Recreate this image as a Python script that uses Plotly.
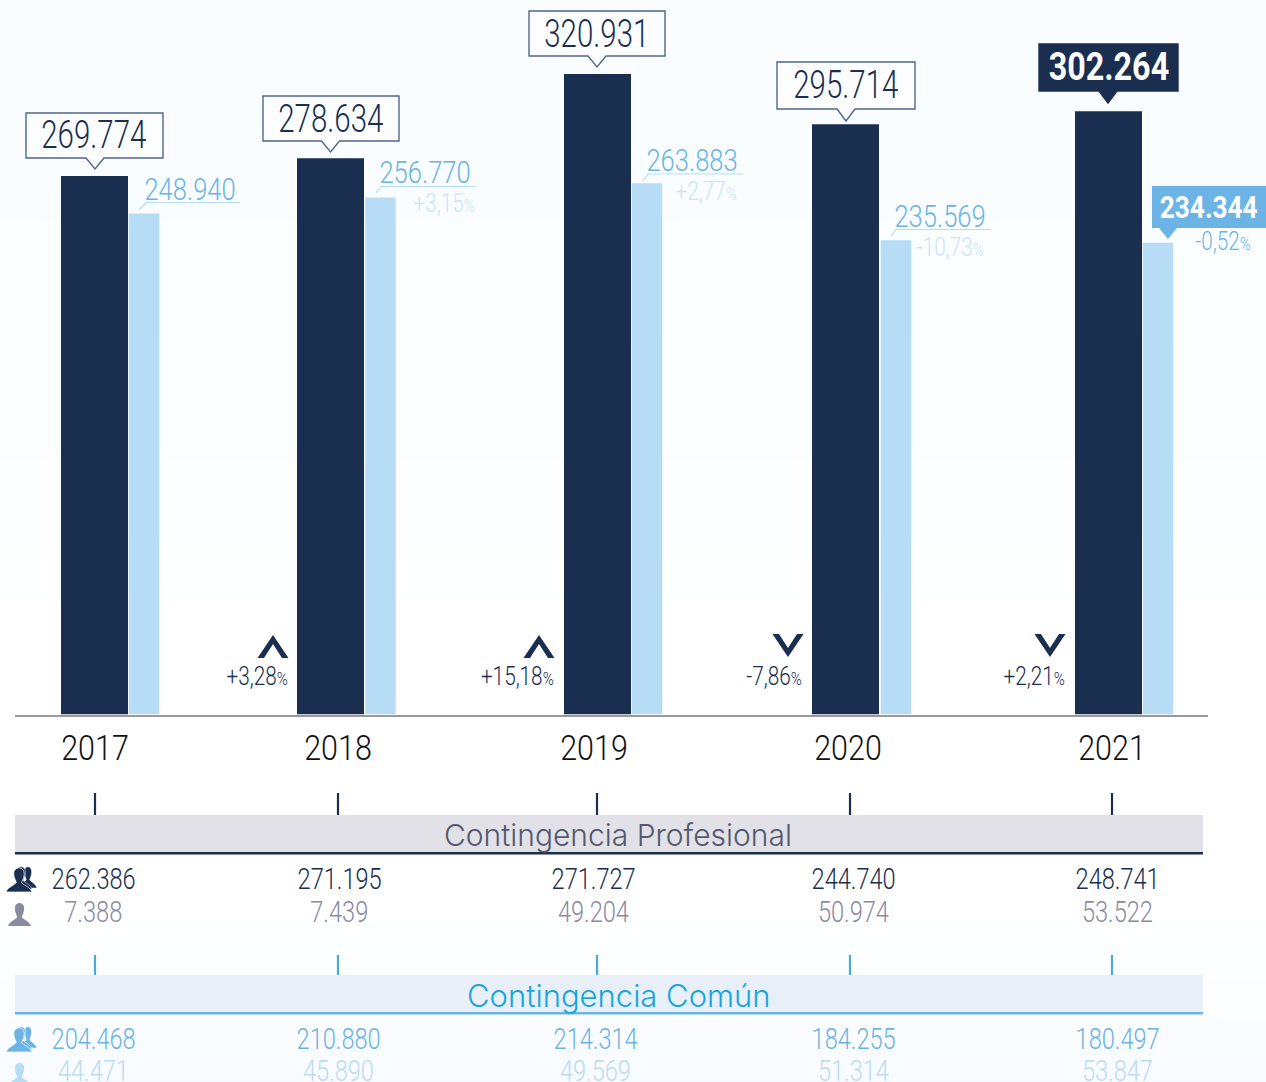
import plotly.graph_objects as go

# ---------- data ----------
years = ["2017", "2018", "2019", "2020", "2021"]
total_main = [269774, 278634, 320931, 295714, 302264]
total_second = [248940, 256770, 263883, 235569, 234344]
total_main_text = ["269.774", "278.634", "320.931", "295.714", "302.264"]
total_second_text = ["248.940", "256.770", "263.883", "235.569", "234.344"]
main_change = ["+3,28", "+15,18", "-7,86", "+2,21"]
second_change = ["+3,15", "+2,77", "-10,73", "-0,52"]
prof_group = ["262.386", "271.195", "271.727", "244.740", "248.741"]
prof_single = ["7.388", "7.439", "49.204", "50.974", "53.522"]
comun_group = ["204.468", "210.880", "214.314", "184.255", "180.497"]
comun_single = ["44.471", "45.890", "49.569", "51.314", "53.847"]
title_prof = "Contingencia Profesional"
title_comun = "Contingencia Común"

# ---------- layout constants ----------
W, H = 1266, 1082
BASE = 714.5
NAVY, SKY, PALE = "#1a2e50", "#6bb4e5", "#b7dcf5"
NARROW = "Roboto"
main_x = [94.5, 330.5, 597.5, 845.5, 1108.5]
second_x = [144, 380.5, 647, 896, 1158]
year_x = [95, 338, 594, 848, 1112]


def X(p): return p / W
def Y(p): return 1 - p / H


def poly(pts):
    return "M" + " L".join(f"{X(x):.5f},{Y(y):.5f}" for x, y in pts) + " Z"


shapes, notes = [], []


def shape_path(path, fill, line=None, lw=0, layer="above"):
    shapes.append(dict(type="path", path=path, xref="paper", yref="paper", fillcolor=fill,
                       line=dict(color=line or fill, width=lw), layer=layer))


def rect(x0, y0, x1, y1, fill, layer="below"):
    shapes.append(dict(type="rect", xref="paper", yref="paper", x0=X(x0), x1=X(x1), y0=Y(y1), y1=Y(y0),
                       fillcolor=fill, line=dict(width=0), layer=layer))


def seg(pts, color, lw=1.0):
    d = "M" + " L".join(f"{X(x):.5f},{Y(y):.5f}" for x, y in pts)
    shapes.append(dict(type="path", path=d, xref="paper", yref="paper", line=dict(color=color, width=lw), layer="above"))


def text(x, y, s, color, size, anchor="center", bold=False, font=NARROW, weight=None):
    notes.append(dict(x=X(x), y=Y(y), xref="paper", yref="paper", text=s, showarrow=False,
                      xanchor=anchor, yanchor="middle", borderpad=0,
                      font=dict(family=font, size=size, color=color, weight=weight or (700 if bold else 300))))


def pct(x, y, s, color, size=25):
    small = round(size * 0.7)
    text(x, y, f'{s}<span style="font-size:{small}px">%</span>', color, size, anchor="right")


# background wash
stops = [(0, (249, 253, 255)), (430, (251, 254, 255)), (620, (255, 255, 255)), (900, (255, 255, 255)), (1082, (247, 251, 255))]
for i in range(0, H, 20):
    for (a, ca), (b, cb) in zip(stops, stops[1:]):
        if a <= i < b:
            t = (i - a) / (b - a)
            c = [round(u + (v - u) * t) for u, v in zip(ca, cb)]
            rect(0, i, W, i + 20, f"rgb({c[0]},{c[1]},{c[2]})")

# callouts of the main totals
boxes = [(26, 163, 113, 158, 95, 169), (263, 399, 96, 141, 330.5, 152), (529, 665, 11, 56, 597, 67),
         (777, 915, 62, 109, 846, 121), (1039, 1178, 44, 91, 1108, 103)]
for i, (l, r, t, b, tx, ty) in enumerate(boxes):
    last = i == 4
    shape_path(poly([(l, t), (r, t), (r, b), (tx + 9, b), (tx, ty), (tx - 9, b), (l, b)]),
               NAVY if last else "#fbfdff", NAVY if last else "#52658a", 1.4)
    text((l + r) / 2, (t + b) / 2, total_main_text[i], "white" if last else NAVY, 38, bold=last)

# secondary totals
under = [(146, 240, 202.5, 139, 210), (381, 476, 186.5, 376, 193), (648, 743, 174, 643, 181), (896, 991, 229.5, 891, 236)]
for i, (a, b, y, dx, dy) in enumerate(under):
    seg([(dx, dy), (a, y), (b, y)], PALE, 1.2)
    text(a + 44, y - 14, total_second_text[i], SKY, 32)
shape_path(poly([(1152, 186), (1266, 186), (1266, 228), (1177, 228), (1168, 239), (1159, 228), (1152, 228)]), SKY)
text(1208, 207, total_second_text[4], "white", 32, bold=True)

pct(476, 204, second_change[0], "#cbe4f7")
pct(738, 191, second_change[1], "#cbe4f7")
pct(985, 247, second_change[2], "#cbe4f7")
pct(1252, 242, second_change[3], SKY)

# year on year change
chev = [(273, True), (539, True), (788, False), (1050, False)]
pct_right = [289, 555, 803, 1066]
for (cx, up), s, r in zip(chev, main_change, pct_right):
    if up:
        pts = [(cx, 635), (cx + 15.5, 658), (cx + 9, 658), (cx, 644), (cx - 9, 658), (cx - 15.5, 658)]
    else:
        pts = [(cx, 657), (cx + 15.5, 634), (cx + 9, 634), (cx, 648), (cx - 9, 634), (cx - 15.5, 634)]
    shape_path(poly(pts), NAVY)
    pct(r, 676, s, NAVY)

# table bands
tick_x = [95, 338, 597, 850, 1112]
for x in tick_x:
    seg([(x, 793), (x, 815)], NAVY, 2.2)
    seg([(x, 955), (x, 975)], "#4aa8dc", 2.2)
rect(15, 815, 1203, 852, "#e1e1e7")
rect(15, 852, 1203, 854.5, NAVY)
rect(15, 975, 1203, 1012, "#e8eff9")
rect(15, 1012, 1203, 1014.5, SKY)
text(618, 835, title_prof, "#55586f", 30, font="Inter", weight=300)
text(619, 995, title_comun, "#17a6dc", 31, font="Inter", weight=300)

c_prof = [94, 339, 593, 853.5, 1117]
c_comun = [94, 338, 595, 853.5, 1117]
for i in range(5):
    text(c_prof[i], 879, prof_group[i], NAVY, 29.5)
    text(c_prof[i], 912, prof_single[i], "#8a8aa3", 29.5)
    text(c_comun[i], 1039, comun_group[i], SKY, 29.5)
    text(c_comun[i], 1071, comun_single[i], "#bcdcf4", 29.5)


# people icons
def person(cx, top, w, h):
    sx, ey = lambda v: X(cx + v * w), lambda v: Y(top + v * h)
    return (f"M{sx(-0.2)},{ey(0.30)} C{sx(-0.24)},{ey(-0.05)} {sx(0.24)},{ey(-0.05)} {sx(0.2)},{ey(0.30)} "
            f"C{sx(0.19)},{ey(0.45)} {sx(0.12)},{ey(0.55)} {sx(0.10)},{ey(0.62)} "
            f"C{sx(0.14)},{ey(0.72)} {sx(0.42)},{ey(0.78)} {sx(0.5)},{ey(1)} "
            f"L{sx(-0.5)},{ey(1)} C{sx(-0.42)},{ey(0.78)} {sx(-0.14)},{ey(0.72)} {sx(-0.10)},{ey(0.62)} "
            f"C{sx(-0.12)},{ey(0.55)} {sx(-0.19)},{ey(0.45)} {sx(-0.2)},{ey(0.30)} Z")


for yoff, col, col2 in [(0, NAVY, "#8a8aa3"), (160, SKY, PALE)]:
    shape_path(person(28, 866 + yoff, 18, 22), col, "white", 0.5)
    shape_path(person(21, 866 + yoff, 22, 23), col, "white", 0.5)
    shape_path(person(19, 867 + yoff, 26, 25), col, "white", 0.7)
    shape_path(person(19.5, 902 + yoff, 23, 24), col2)

# ---------- figure ----------
fig = go.Figure()
fig.add_bar(x=main_x, y=total_main, width=67, marker=dict(color=NAVY, line=dict(width=0)), name="Total", yaxis="y")
fig.add_bar(x=second_x, y=total_second, width=30.5, marker=dict(color=PALE, line=dict(width=0)), name="Total 2", yaxis="y2")

dom0 = 1 - BASE / H
fig.update_layout(
    width=W, height=H, margin=dict(l=0, r=0, t=0, b=0), autosize=False,
    paper_bgcolor="white", plot_bgcolor="rgba(0,0,0,0)", showlegend=False, barmode="overlay",
    shapes=shapes, annotations=notes, hovermode=False,
    xaxis=dict(domain=[X(15), X(1208)], range=[15, 1208], tickmode="array", tickvals=year_x, ticktext=years,
               showgrid=False, zeroline=False, showline=True, linecolor="#9a9a9a", linewidth=2, ticks="",
               tickfont=dict(family=NARROW, size=35, color="#111111", weight=300), ticklabelstandoff=2),
    yaxis=dict(domain=[dom0, 1], range=[0, BASE / 0.001996], visible=False),
    yaxis2=dict(domain=[dom0, 1], range=[0, BASE / 0.002013], visible=False, overlaying="y"),
)

# The reference's face is a condensed one, which is not installed: narrow the real text horizontally.
squeeze_js = r"""
document.body.style.margin='0';document.body.style.overflow='hidden';
var gd=document.getElementById('{plot_id}');
function squeeze(t,fx,anchor){
  var b=t.getBBox();
  var ox=anchor==='right'?b.x+b.width:(anchor==='left'?b.x:b.x+b.width/2);
  var old=t.getAttribute('transform')||'';
  t.setAttribute('transform',old+' translate('+ox+',0) scale('+fx+',1) translate('+(-ox)+',0)');
}
gd.querySelectorAll('.annotation').forEach(function(a){
  var an=gd.layout.annotations[+a.getAttribute('data-index')];
  if(an.font.family!=='Roboto')return;
  var big=an.font.size>=37, bold=an.font.weight>=700, isPct=an.text.indexOf('%')>=0;
  var fx=bold?(big?0.85:0.82):(big?0.775:(isPct?0.83:0.80));
  squeeze(a.querySelector('text'),fx,an.xanchor);
});
gd.querySelectorAll('.xtick text').forEach(function(t){squeeze(t,0.87,'center');});
"""
fig.write_html("out.html", config={"displayModeBar": False}, post_script=squeeze_js)
